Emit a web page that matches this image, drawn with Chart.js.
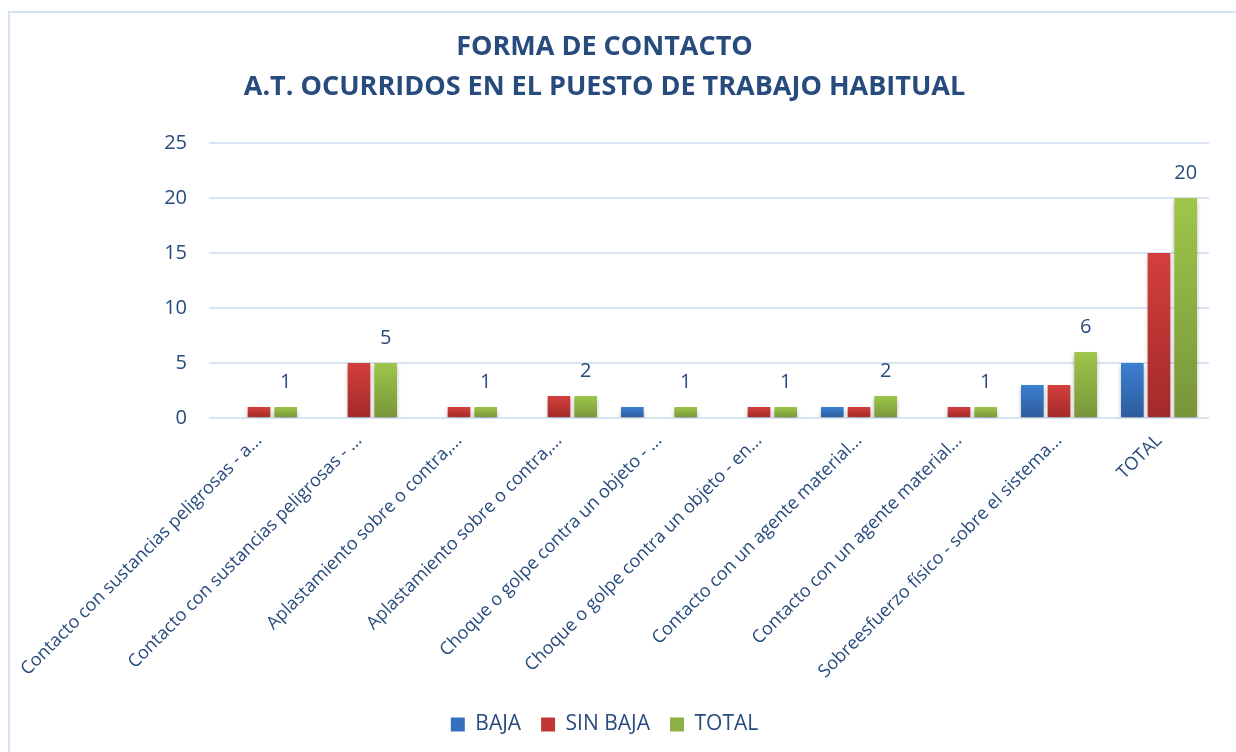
<!DOCTYPE html>
<html>
<head>
<meta charset="utf-8">
<script src="https://cdn.jsdelivr.net/npm/chart.js@4.4.1/dist/chart.umd.min.js"></script>
<style>
  html, body { margin: 0; padding: 0; background: #fff; }
  #wrap { position: relative; width: 1236px; height: 752px; }
  #frame { position: absolute; left: 8px; top: 11px; width: 1240px; height: 760px;
           border: 2px solid #d6e3f3; pointer-events: none; }
</style>
</head>
<body>
<div id="wrap">
  <canvas id="graphCanvas" width="1236" height="752"></canvas>
  <div id="frame"></div>
</div>
<script>
// datos del gráfico
var categorias = [
    "Contacto con sustancias peligrosas - a...",
    "Contacto con sustancias peligrosas - ...",
    "Aplastamiento sobre o contra,...",
    "Aplastamiento sobre o contra,...",
    "Choque o golpe contra un objeto - ...",
    "Choque o golpe contra un objeto - en...",
    "Contacto con un agente material...",
    "Contacto con un agente material...",
    "Sobreesfuerzo físico - sobre el sistema...",
    "TOTAL"
];
var baja    = [0, 0, 0, 0, 1, 0, 1, 0, 3, 5];
var sinBaja = [1, 5, 1, 2, 0, 1, 1, 1, 3, 15];
var total   = [1, 5, 1, 2, 1, 1, 2, 1, 6, 20];
var titulo  = ["FORMA DE CONTACTO", "A.T. OCURRIDOS EN EL PUESTO DE TRABAJO HABITUAL"];

var azulTexto = "#274b7d";
var fuente = "'Open Sans', sans-serif";

// degradado vertical por barra
function degradado(arriba, abajo) {
    return function(context) {
        var chart = context.chart;
        if (!chart.chartArea || context.type !== "data") return arriba;
        var y = chart.scales.y;
        var v = context.raw || 0;
        var top = y.getPixelForValue(v);
        var base = y.getPixelForValue(0);
        if (base - top < 1) return arriba;
        var g = chart.ctx.createLinearGradient(0, top, 0, base);
        g.addColorStop(0, arriba);
        g.addColorStop(1, abajo);
        return g;
    };
}

// sombra suave bajo las barras
var sombra = {
    id: "sombra",
    beforeDatasetsDraw: function(chart) {
        var ctx = chart.ctx;
        ctx.save();
        ctx.shadowColor = "rgba(0,0,0,0.28)";
        ctx.shadowBlur = 4;
        ctx.shadowOffsetY = 3;
    },
    afterDatasetsDraw: function(chart) {
        chart.ctx.restore();
    }
};

// etiquetas de valor sobre la serie TOTAL
var etiquetas = {
    id: "etiquetas",
    afterDraw: function(chart) {
        var ctx = chart.ctx;
        var meta = chart.getDatasetMeta(2);
        ctx.save();
        ctx.font = "20px " + fuente;
        ctx.fillStyle = azulTexto;
        ctx.textAlign = "center";
        ctx.textBaseline = "middle";
        meta.data.forEach(function(bar, i) {
            ctx.fillText(String(total[i]), bar.x, bar.y - 25);
        });
        ctx.restore();
    }
};

var ctx = document.getElementById("graphCanvas").getContext("2d");
window.myChart = new Chart(ctx, {
    type: "bar",
    data: {
        labels: categorias,
        datasets: [
            { label: "BAJA", data: baja,
              backgroundColor: degradado("#3d7fd1", "#2c5c9c") },
            { label: "SIN BAJA", data: sinBaja,
              backgroundColor: degradado("#d33f3c", "#a22a29") },
            { label: "TOTAL", data: total,
              backgroundColor: degradado("#9ec64b", "#789539") }
        ]
    },
    options: {
        responsive: false,
        animation: false,
        datasets: {
            bar: { categoryPercentage: 0.8, barPercentage: 0.85 }
        },
        layout: { padding: { left: 0, right: 27, top: 0, bottom: 7 } },
        plugins: {
            title: {
                display: true,
                text: titulo,
                color: azulTexto,
                font: { family: fuente, size: 27, weight: "bold", lineHeight: 1.48 },
                padding: { top: 27, bottom: 36 }
            },
            legend: {
                position: "bottom",
                labels: {
                    color: azulTexto,
                    font: { family: fuente, size: 21 },
                    boxWidth: 14,
                    boxHeight: 14,
                    padding: 20,
                    generateLabels: function(chart) {
                        var cols = ["#3670bd", "#c23735", "#8cb043"];
                        return chart.data.datasets.map(function(ds, i) {
                            return { text: ds.label, fillStyle: cols[i], strokeStyle: cols[i],
                                     lineWidth: 0, fontColor: azulTexto, datasetIndex: i };
                        });
                    }
                }
            },
            tooltip: { enabled: false }
        },
        scales: {
            x: {
                grid: { display: false },
                border: { display: false },
                ticks: {
                    color: azulTexto,
                    font: { family: fuente, size: 18 },
                    minRotation: 45,
                    maxRotation: 45,
                    autoSkip: false,
                    padding: 4
                },
                afterFit: function(s) { s.height = 276; }
            },
            y: {
                min: 0,
                max: 25,
                grid: { color: "#d9e4f2", lineWidth: 2, drawTicks: false },
                border: { display: false },
                ticks: {
                    stepSize: 5,
                    color: azulTexto,
                    font: { family: fuente, size: 20 },
                    padding: 22
                },
                afterFit: function(s) { s.width = 209; }
            }
        }
    },
    plugins: [sombra, etiquetas]
});
</script>
</body>
</html>
